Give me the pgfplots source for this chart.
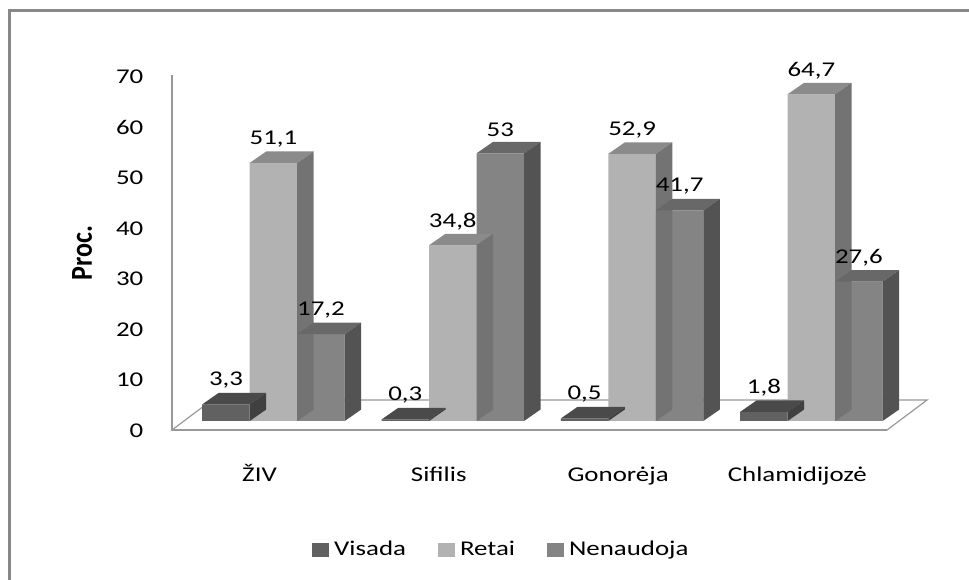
\documentclass[border=0pt]{standalone}
\usepackage{fontspec}
\setmainfont{Carlito}[FakeStretch=1.28]
\newfontfamily\titlefont{Carlito}
\usepackage{pgfplots}
\pgfplotsset{compat=1.18}
\definecolor{frame}{HTML}{888888}
\definecolor{floorline}{HTML}{999999}
\definecolor{visF}{HTML}{616161}
\definecolor{visT}{HTML}{4A4A4A}
\definecolor{visS}{HTML}{404040}
\definecolor{retF}{HTML}{B2B2B2}
\definecolor{retT}{HTML}{8B8B8B}
\definecolor{retS}{HTML}{737373}
\definecolor{nenF}{HTML}{848484}
\definecolor{nenT}{HTML}{686868}
\definecolor{nenS}{HTML}{535353}
\newcommand\barfaces[3]{%
  \pgfmathsetmacro\hh{\ry*5.05}%
  \pgfsetfillcolor{#2}%
  \pgfpathmoveto{\pgfpoint{#1pt}{0pt}}%
  \pgfpathlineto{\pgfpoint{#1pt+47.5pt}{0pt}}%
  \pgfpathlineto{\pgfpoint{#1pt+64pt}{11.5pt}}%
  \pgfpathlineto{\pgfpoint{#1pt+16.5pt}{11.5pt}}%
  \pgfpathclose\pgfusepath{fill}%
  \pgfsetfillcolor{#3}%
  \pgfpathmoveto{\pgfpoint{#1pt+47.5pt}{0pt}}%
  \pgfpathlineto{\pgfpoint{#1pt+64pt}{11.5pt}}%
  \pgfpathlineto{\pgfpoint{#1pt+64pt}{11.5pt-\hh pt}}%
  \pgfpathlineto{\pgfpoint{#1pt+47.5pt}{-\hh pt}}%
  \pgfpathclose\pgfusepath{fill}%
}
\pgfdeclareplotmark{facesVis}{\barfaces{-71.25}{visT}{visS}}
\pgfdeclareplotmark{facesRet}{\barfaces{-23.75}{retT}{retS}}
\pgfdeclareplotmark{facesNen}{\barfaces{23.75}{nenT}{nenS}}
\begin{document}
\fontsize{21pt}{25pt}\selectfont
\begin{tikzpicture}
\useasboundingbox (0pt,0pt) rectangle (969pt,580pt);
\draw[frame, line width=3pt] (9.5pt,0pt) -- (9.5pt,569.5pt) -- (975pt,569.5pt);
% floor
\filldraw[fill=white, draw=floorline, line width=1.2pt] (172pt,150pt) -- (887pt,150pt) -- (927pt,180pt) -- (212pt,180pt) -- cycle;
\draw[floorline, line width=2.5pt] (172pt,150pt) -- (887pt,150pt);
% vertical axis line
\draw[floorline, line width=1.5pt] (172pt,150pt) -- (172pt,505pt);
\begin{axis}[
  anchor=south west, at={(165.9pt,159pt)},
  x=179.3pt, y=5.05pt,
  xmin=-0.6, xmax=3.6, ymin=0, ymax=70,
  clip=false,
  axis line style={draw=none},
  tick style={draw=none},
  xtick={0,1,2,3},
  xticklabels={ŽIV,Sifilis,Gonorėja,Chlamidijozė},
  ytick={0,10,...,70},
  /pgf/number format/assume math mode=true,
  /pgf/number format/use comma,
  tick label style={font=\fontsize{21pt}{25pt}\selectfont},
  xticklabel style={anchor=base, yshift=-61pt, xshift=-14pt},
  yticklabel style={anchor=east, xshift=-15.4pt, yshift=-9.5pt},
  legend columns=-1,
  legend style={draw=none, fill=none, at={(axis description cs:0.4455,-0.365)}, anchor=center,
    font=\fontsize{21pt}{25pt}\selectfont, nodes={inner sep=2pt},
    /tikz/every odd column/.append style={column sep=3pt},
    /tikz/every even column/.append style={column sep=30pt}},
  legend image code/.code={\fill[#1] (0pt,-7pt) rectangle (17pt,7pt);},
  nodes near coords style={anchor=center, yshift=24pt, font=\fontsize{21pt}{25pt}\selectfont, text=black},
]
\addplot[ybar, bar width=47.5pt, bar shift=-47.5pt, fill=visF, draw=none, nodes near coords, point meta=y,
  nodes near coords style={xshift=-47.5pt}]
  coordinates {(0,3.3) (1,0.3) (2,0.5) (3,1.8)};
\addlegendentry{Visada}
\addplot[only marks, mark=facesVis, forget plot, visualization depends on={rawy \as \ry}]
  coordinates {(0,3.3) (1,0.3) (2,0.5) (3,1.8)};
\addplot[ybar, bar width=47.5pt, bar shift=0pt, fill=retF, draw=none, nodes near coords, point meta=y]
  coordinates {(0,51.1) (1,34.8) (2,52.9) (3,64.7)};
\addlegendentry{Retai}
\addplot[only marks, mark=facesRet, forget plot, visualization depends on={rawy \as \ry}]
  coordinates {(0,51.1) (1,34.8) (2,52.9) (3,64.7)};
\addplot[ybar, bar width=47.5pt, bar shift=47.5pt, fill=nenF, draw=none, nodes near coords, point meta=y,
  nodes near coords style={xshift=47.5pt}]
  coordinates {(0,17.2) (1,53) (2,41.7) (3,27.6)};
\addlegendentry{Nenaudoja}
\addplot[only marks, mark=facesNen, forget plot, visualization depends on={rawy \as \ry}]
  coordinates {(0,17.2) (1,53) (2,41.7) (3,27.6)};
\end{axis}
\node[rotate=90, yscale=1.17, font=\titlefont\bfseries\fontsize{26pt}{30pt}\selectfont] at (82pt,327pt) {Proc.};
\end{tikzpicture}
\end{document}
